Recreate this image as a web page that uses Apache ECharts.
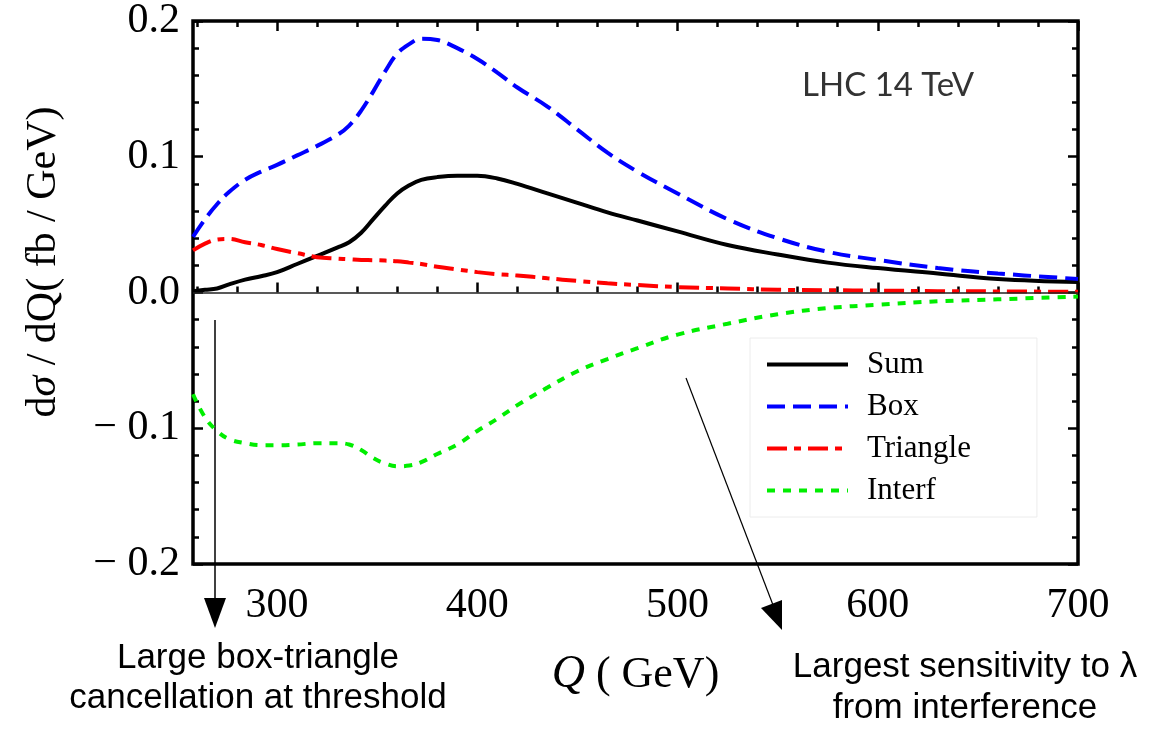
<!DOCTYPE html>
<html>
<head>
<meta charset="utf-8">
<title>dsigma/dQ LHC 14 TeV</title>
<script src="https://cdn.jsdelivr.net/npm/echarts@6/dist/echarts.min.js"></script>
<style>
  html, body { margin: 0; padding: 0; background: #fff; }
  #chart { width: 1156px; height: 731px; }
</style>
</head>
<body>
<div id="chart"></div>
<script>
// Q (GeV) grid the curves were read at
var qValues = [258, 264, 270, 276, 284, 292, 300, 310, 320, 330, 336, 342, 348, 354, 360, 366, 372,
  380, 390, 400, 410, 420, 435, 450, 465, 480, 500, 525, 550, 575, 600, 630, 660, 700];

var sumValues = [0.001, 0.002, 0.003, 0.006, 0.0095, 0.012, 0.015, 0.021, 0.027, 0.033, 0.037, 0.044,
  0.054, 0.064, 0.073, 0.079, 0.083, 0.085, 0.086, 0.086, 0.084, 0.080, 0.073, 0.066, 0.059, 0.053,
  0.045, 0.035, 0.028, 0.022, 0.018, 0.014, 0.010, 0.0077];

var boxValues = [0.041, 0.054, 0.065, 0.074, 0.083, 0.089, 0.094, 0.101, 0.108, 0.116, 0.123, 0.134,
  0.148, 0.163, 0.176, 0.183, 0.187, 0.186, 0.180, 0.172, 0.162, 0.151, 0.137, 0.120, 0.103, 0.089,
  0.073, 0.054, 0.040, 0.030, 0.024, 0.018, 0.014, 0.010];

var triangleValues = [0.031, 0.036, 0.039, 0.0395, 0.037, 0.035, 0.032, 0.029, 0.026, 0.025, 0.0245,
  0.024, 0.0238, 0.0235, 0.023, 0.022, 0.021, 0.019, 0.017, 0.015, 0.0135, 0.0125, 0.0105, 0.0085,
  0.0068, 0.0055, 0.004, 0.003, 0.002, 0.0017, 0.0014, 0.001, 0.0008, 0.0005];

var interfValues = [-0.075, -0.092, -0.102, -0.108, -0.111, -0.1125, -0.1125, -0.112, -0.111, -0.111,
  -0.112, -0.116, -0.122, -0.126, -0.128, -0.1275, -0.125, -0.119, -0.112, -0.102, -0.093, -0.083,
  -0.070, -0.058, -0.049, -0.041, -0.031, -0.023, -0.016, -0.0115, -0.009, -0.0065, -0.005, -0.003];

var seriesNames = ['Sum', 'Box', 'Triangle', 'Interf'];

// tick positions
var xMajorTicks = [300, 400, 500, 600, 700];
var xMinorTicks = [260, 280, 320, 340, 360, 380, 420, 440, 460, 480, 520, 540, 560, 580, 620, 640, 660, 680];

function pairs(vals) {
  var out = [];
  for (var i = 0; i < qValues.length; i++) {
    out.push([qValues[i], vals[i]]);
  }
  return out;
}

var serif = 'Liberation Serif';
var tickStyle = { color: '#000', width: 2.5 };

function xTickAxis(pos, ticks, len, labels) {
  return {
    type: 'value', position: pos, min: 258, max: 700,
    axisLine: { show: false },
    splitLine: { show: false },
    axisTick: { show: true, inside: true, length: len, customValues: ticks, lineStyle: tickStyle },
    axisLabel: labels ? {
      show: true, customValues: xMajorTicks, margin: 21,
      color: '#000', fontFamily: serif, fontSize: 42
    } : { show: false }
  };
}

function yTickAxis(pos, labels) {
  return {
    type: 'value', position: pos, min: -0.2, max: 0.2, interval: 0.1,
    axisLine: { show: false },
    splitLine: { show: false },
    axisTick: { show: true, inside: true, length: 10, lineStyle: tickStyle },
    minorTick: { show: true, splitNumber: 5, length: 6, lineStyle: tickStyle },
    axisLabel: labels ? {
      show: true, margin: 13, color: '#000', fontFamily: serif, fontSize: 42,
      formatter: function (v) {
        if (Math.abs(v) < 1e-9) return '0.0';
        return v < 0 ? '\u2212 ' + (-v).toFixed(1) : v.toFixed(1);
      }
    } : { show: false }
  };
}

var xMain = xTickAxis('bottom', xMajorTicks, 10, true);
xMain.name = '{q|Q}{n| ( GeV)}';
xMain.nameLocation = 'middle';
xMain.nameGap = 88;
xMain.nameTextStyle = {
  rich: {
    q: { fontFamily: serif, fontStyle: 'italic', fontSize: 46, color: '#000' },
    n: { fontFamily: serif, fontSize: 44, color: '#000' }
  }
};

var chart = echarts.init(document.getElementById('chart'));

var option = {
  animation: false,
  backgroundColor: '#fff',
  grid: {
    left: 193, right: 78, top: 17, bottom: 167,
    show: true, borderColor: '#000', borderWidth: 3.5, backgroundColor: 'transparent'
  },
  legend: {
    data: seriesNames,
    orient: 'vertical',
    left: 750, top: 338,
    padding: [11, 66, 11, 15],
    itemGap: 11,
    itemWidth: 81,
    itemHeight: 14,
    borderColor: '#ececec',
    borderWidth: 1,
    itemStyle: { opacity: 0 },
    lineStyle: { width: 4 },
    textStyle: { fontFamily: serif, fontSize: 31, lineHeight: 30, color: '#000', padding: [0, 0, 0, 14] }
  },
  xAxis: [
    xMain,
    xTickAxis('bottom', xMinorTicks, 6, false),
    xTickAxis('top', xMajorTicks, 10, false),
    xTickAxis('top', xMinorTicks, 6, false)
  ],
  yAxis: [
    yTickAxis('left', true),
    yTickAxis('right', false)
  ],
  series: [
    {
      name: 'Sum', type: 'line', smooth: 0.4, symbol: 'none',
      lineStyle: { color: '#000', width: 4 },
      itemStyle: { color: '#000' },
      data: pairs(sumValues),
      markLine: {
        silent: true, symbol: 'none', label: { show: false },
        lineStyle: { color: '#222', width: 1.5, type: 'solid' },
        data: [{ yAxis: 0 }]
      }
    },
    {
      name: 'Box', type: 'line', smooth: 0.4, symbol: 'none',
      lineStyle: { color: '#0000ff', width: 4, type: [18, 8], cap: 'butt' },
      itemStyle: { color: '#0000ff' },
      data: pairs(boxValues)
    },
    {
      name: 'Triangle', type: 'line', smooth: 0.4, symbol: 'none',
      lineStyle: { color: '#ff0000', width: 4, type: [20, 7, 7, 7], cap: 'butt' },
      itemStyle: { color: '#ff0000' },
      data: pairs(triangleValues)
    },
    {
      name: 'Interf', type: 'line', smooth: 0.4, symbol: 'none',
      lineStyle: { color: '#00ee00', width: 4, type: [8, 8], cap: 'butt' },
      itemStyle: { color: '#00ee00' },
      data: pairs(interfValues)
    }
  ],
  graphic: [
    // y axis title
    {
      type: 'text', x: 44, y: 262, rotation: Math.PI / 2,
      style: {
        text: '{s|d}{g|σ}{s| / dQ( fb / GeV)}', align: 'center', verticalAlign: 'middle',
        rich: {
          s: { fontFamily: serif, fontSize: 42, fill: '#000' },
          g: { fontFamily: serif, fontStyle: 'italic', fontSize: 42, fill: '#000' }
        }
      }
    },
    {
      type: 'text', x: 802, y: 85,
      style: { text: 'LHC 14 TeV', verticalAlign: 'middle', fontFamily: 'Lato', fontSize: 33, fill: '#333' }
    },
    // threshold arrow
    { type: 'line', shape: { x1: 215, y1: 320, x2: 215, y2: 600 }, style: { stroke: '#000', lineWidth: 1.5 } },
    { type: 'polygon', shape: { points: [[204, 598], [226, 598], [215, 628]] }, style: { fill: '#000' } },
    // interference arrow
    { type: 'line', shape: { x1: 686, y1: 378, x2: 773, y2: 605 }, style: { stroke: '#000', lineWidth: 1.2 } },
    { type: 'polygon', shape: { points: [[761, 608], [782, 600], [782, 630]] }, style: { fill: '#000' } },
    {
      type: 'text', x: 258, y: 678,
      style: {
        text: 'Large box-triangle\ncancellation at threshold', align: 'center', verticalAlign: 'middle',
        fontFamily: 'Liberation Sans', fontSize: 35, lineHeight: 40, fill: '#000'
      }
    },
    {
      type: 'text', x: 965, y: 688,
      style: {
        text: 'Largest sensitivity to λ\nfrom interference', align: 'center', verticalAlign: 'middle',
        fontFamily: 'Liberation Sans', fontSize: 35, lineHeight: 41, fill: '#000'
      }
    }
  ]
};

chart.setOption(option);
</script>
</body>
</html>
